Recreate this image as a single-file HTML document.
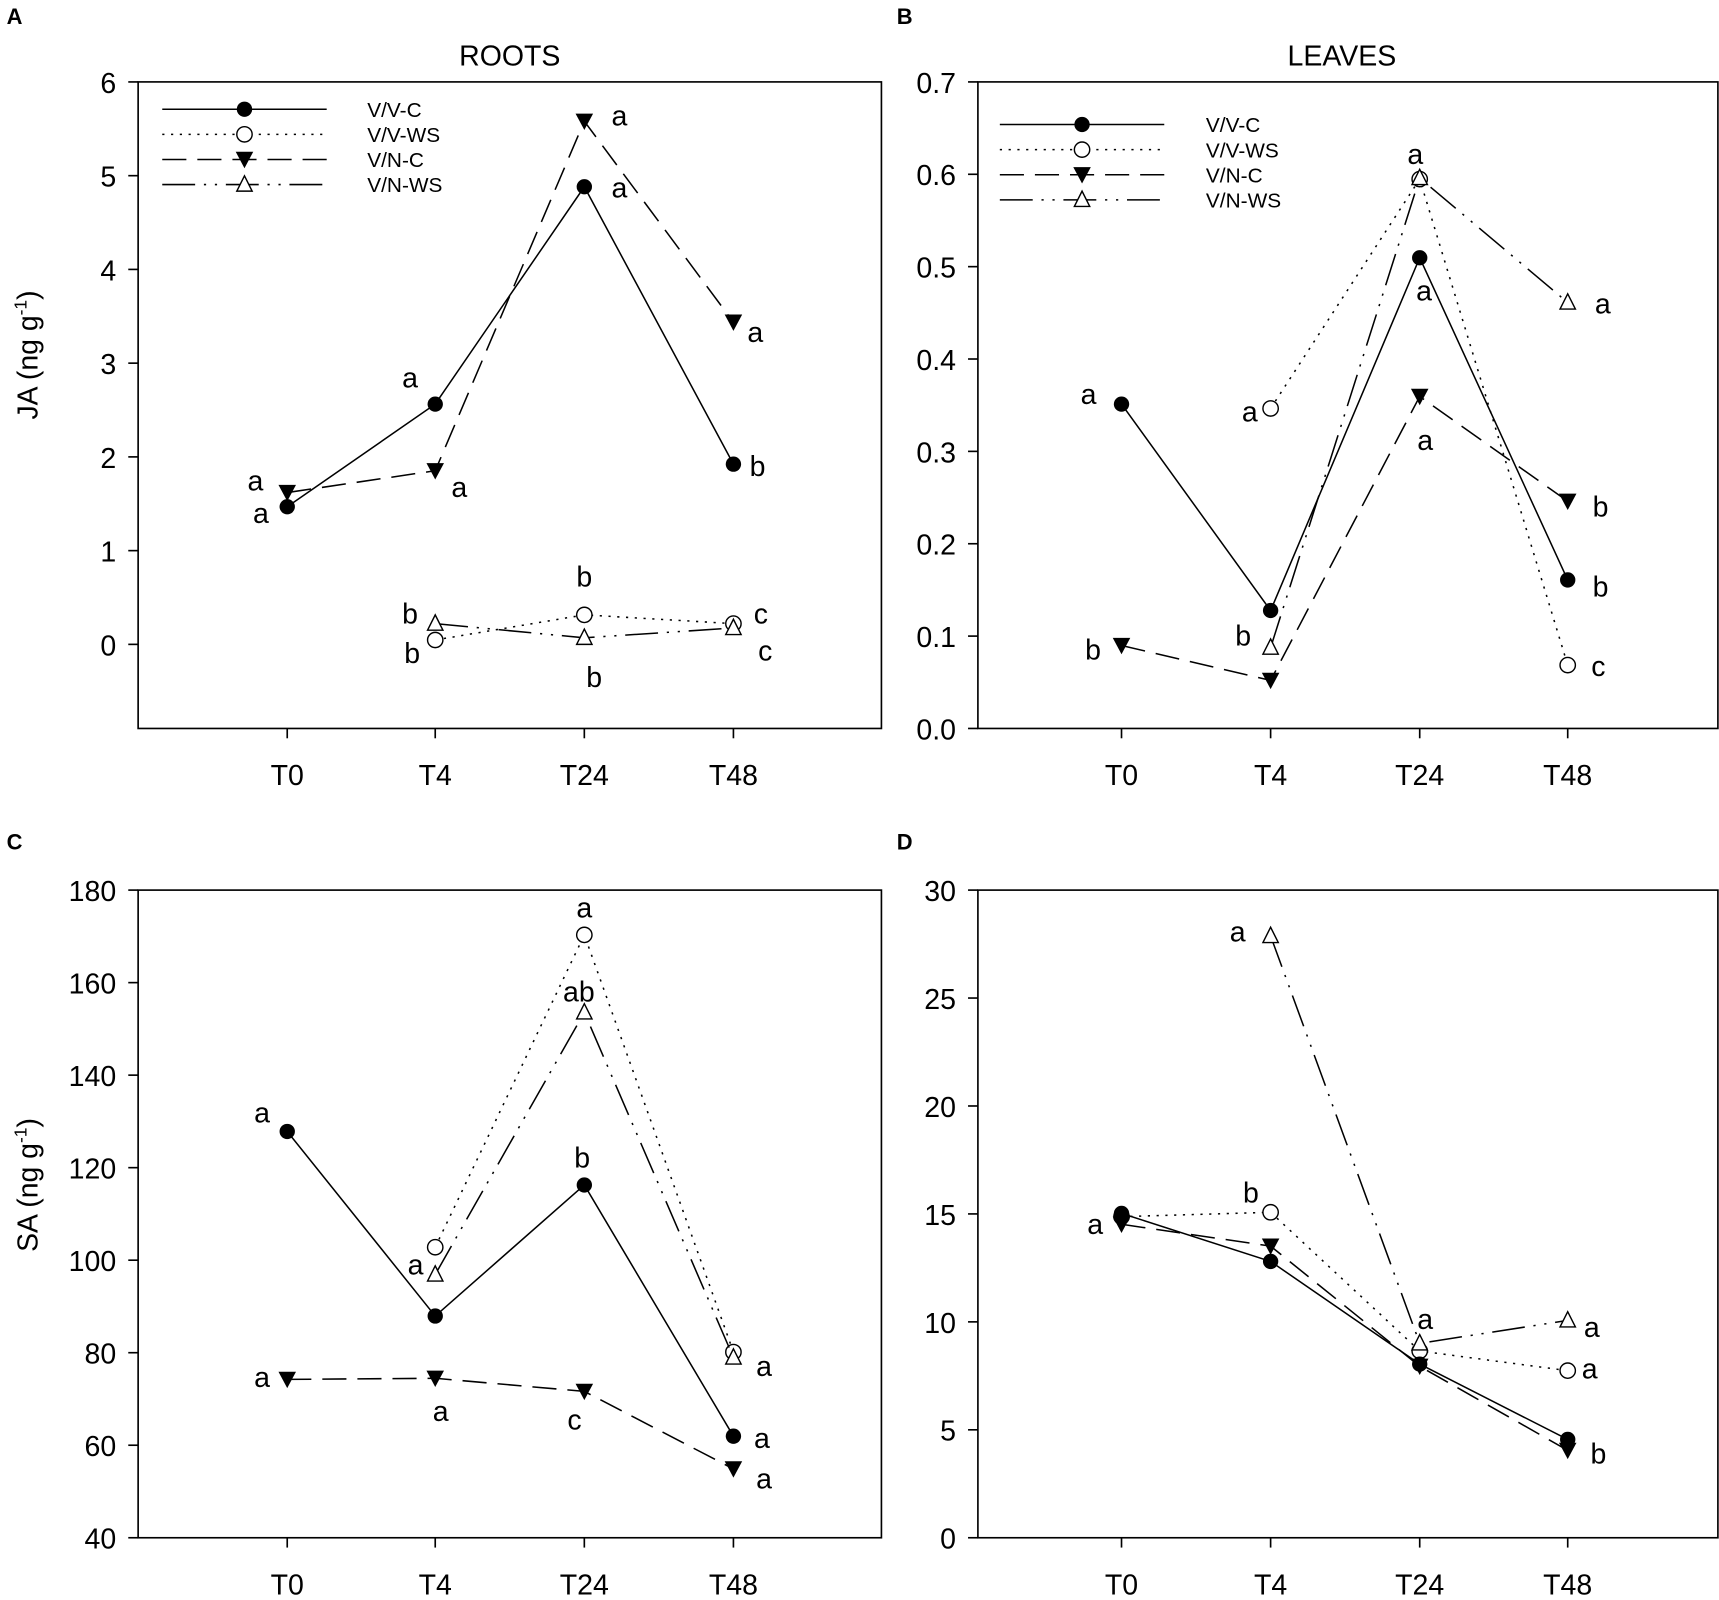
<!DOCTYPE html>
<html><head><meta charset="utf-8"><style>
html,body{margin:0;padding:0;background:#fff;}
svg{display:block;}
text{font-family:"Liberation Sans",Arial,sans-serif;fill:#000;}
</style></head><body>
<svg id="s" width="1719" height="1600" viewBox="0 0 1568 1465" preserveAspectRatio="none" xmlns="http://www.w3.org/2000/svg">
<rect width="1568" height="1465" fill="#fff"/>
<g id="g"></g>
<text x="465" y="60" font-size="26" text-anchor="middle">ROOTS</text>
<text x="1224" y="60" font-size="26" text-anchor="middle">LEAVES</text>
<text x="6" y="22" font-size="20" font-weight="bold">A</text>
<text x="818" y="22" font-size="20" font-weight="bold">B</text>
<text x="6" y="778" font-size="20" font-weight="bold">C</text>
<text x="818" y="778" font-size="20" font-weight="bold">D</text>
<text transform="translate(34,325) rotate(-90)" font-size="26" text-anchor="middle">JA (ng g<tspan dy="-10" font-size="16">-1</tspan><tspan dy="10">)</tspan></text>
<text transform="translate(34,1085) rotate(-90)" font-size="26" text-anchor="middle">SA (ng g<tspan dy="-10" font-size="16">-1</tspan><tspan dy="10">)</tspan></text>
</svg>
<script>
const g=document.getElementById('g');let h='';
const dash={VVC:'',VVWS:'2,6',VNC:'22,10',VNWS:'30,8,2,8,2,8'};
function mk(t,x,y){
 if(t=='VVC')return `<circle cx="${x}" cy="${y}" r="7" fill="#000"/>`;
 if(t=='VVWS')return `<circle cx="${x}" cy="${y}" r="7" fill="#fff" stroke="#000" stroke-width="1.3"/>`;
 if(t=='VNC')return `<polygon points="${x-8},${y-7} ${x+8},${y-7} ${x},${y+8}" fill="#000"/>`;
 return `<polygon points="${x-7},${y+6} ${x+7},${y+6} ${x},${y-8}" fill="#fff" stroke="#000" stroke-width="1.3"/>`;
}
function series(t,pts){
 h+=`<polyline points="${pts.map(p=>p.join(',')).join(' ')}" fill="none" stroke="#000" stroke-width="1.4" ${dash[t]?`stroke-dasharray="${dash[t]}"`:''}/>`;
 pts.forEach(p=>h+=mk(t,p[0],p[1]));
}
function panel(x0,x1,y0,y1,ticks,xs){
 h+=`<rect x="${x0}" y="${y0}" width="${x1-x0}" height="${y1-y0}" fill="none" stroke="#000" stroke-width="1.5"/>`;
 ticks.forEach(([v,y])=>{h+=`<line x1="${x0-9}" y1="${y}" x2="${x0}" y2="${y}" stroke="#000" stroke-width="1.5"/><text x="${x0-20}" y="${y+10}" font-size="26" text-anchor="end">${v}</text>`;});
 ['T0','T4','T24','T48'].forEach((l,i)=>{h+=`<line x1="${xs[i]}" y1="${y1}" x2="${xs[i]}" y2="${y1+9}" stroke="#000" stroke-width="1.5"/><text x="${xs[i]}" y="${y1+52}" font-size="26" text-anchor="middle">${l}</text>`;});
}
function legend(x,y,tx){
 const n=[['VVC','V/V-C'],['VVWS','V/V-WS'],['VNC','V/N-C'],['VNWS','V/N-WS']];
 n.forEach(([t,l],i)=>{const yy=y+i*23;
  h+=`<line x1="${x}" y1="${yy}" x2="${x+150}" y2="${yy}" stroke="#000" stroke-width="1.4" ${dash[t]?`stroke-dasharray="${dash[t]}"`:''}/>`+mk(t,x+75,yy)+`<text x="${tx}" y="${yy+7}" font-size="19">${l}</text>`;});
}
function labs(a){a.forEach(([s,x,y])=>h+=`<text x="${x}" y="${y+9}" font-size="26" text-anchor="middle">${s}</text>`);}
const XA=[262,397,533,669],XB=[1023,1159,1295,1430];
panel(126,804,75,667,[0,1,2,3,4,5,6].map(v=>[v,590-v*85.83]),XA);
series('VVC',[[262,464],[397,370],[533,171],[669,425]]);
series('VNC',[[262,451],[397,431],[533,111],[669,295]]);
series('VVWS',[[397,586],[533,563],[669,571]]);
series('VNWS',[[397,571],[533,584],[669,575]]);
legend(148,100,335);
labs([['a',233,440],['a',238,470],['a',374,346],['a',419,446],['a',565,106],['a',565,172],['a',689,304],['b',691,427],['b',374,562],['b',376,598],['b',533,528],['b',542,620],['c',694,562],['c',698,596]]);
panel(892,1567,75,667,[0,1,2,3,4,5,6,7].map(v=>[(v/10).toFixed(1),667-v*84.57]),XB);
series('VVC',[[1023,370],[1159,559],[1295,236],[1430,531]]);
series('VVWS',[[1159,374],[1295,164],[1430,609]]);
series('VNC',[[1023,591],[1159,623],[1295,363],[1430,459]]);
series('VNWS',[[1159,593],[1295,163],[1430,277]]);
legend(912,114,1100);
labs([['a',993,361],['a',1140,377],['b',997,595],['b',1134,582],['a',1291,141],['a',1299,266],['a',1300,403],['a',1462,278],['b',1460,464],['b',1460,537],['c',1458,610]]);
panel(126,804,815,1408,[40,60,80,100,120,140,160,180].map(v=>[v,1408-(v-40)*593/140]),XA);
series('VVC',[[262,1036],[397,1205],[533,1085],[669,1315]]);
series('VVWS',[[397,1142],[533,856],[669,1238]]);
series('VNC',[[262,1263],[397,1262],[533,1274],[669,1345]]);
series('VNWS',[[397,1167],[533,927],[669,1243]]);
labs([['a',239,1019],['a',239,1261],['a',379,1158],['a',402,1292],['a',533,831],['ab',528,908],['b',531,1060],['c',524,1300],['a',697,1251],['a',695,1317],['a',697,1354]]);
panel(892,1567,815,1408,[0,5,10,15,20,25,30].map(v=>[v,1408-v*593/30]),XB);
series('VVWS',[[1023,1114],[1159,1110],[1295,1237],[1430,1255]]);
series('VNWS',[[1159,857],[1295,1230],[1430,1209]]);
series('VNC',[[1023,1121],[1159,1141],[1295,1251],[1430,1328]]);
series('VVC',[[1023,1111],[1159,1155],[1295,1249],[1430,1318]]);
labs([['a',999,1121],['b',1141,1092],['a',1129,853],['a',1300,1208],['a',1452,1215],['a',1450,1253],['b',1458,1331]]);
g.innerHTML=h;
</script>
</body></html>
